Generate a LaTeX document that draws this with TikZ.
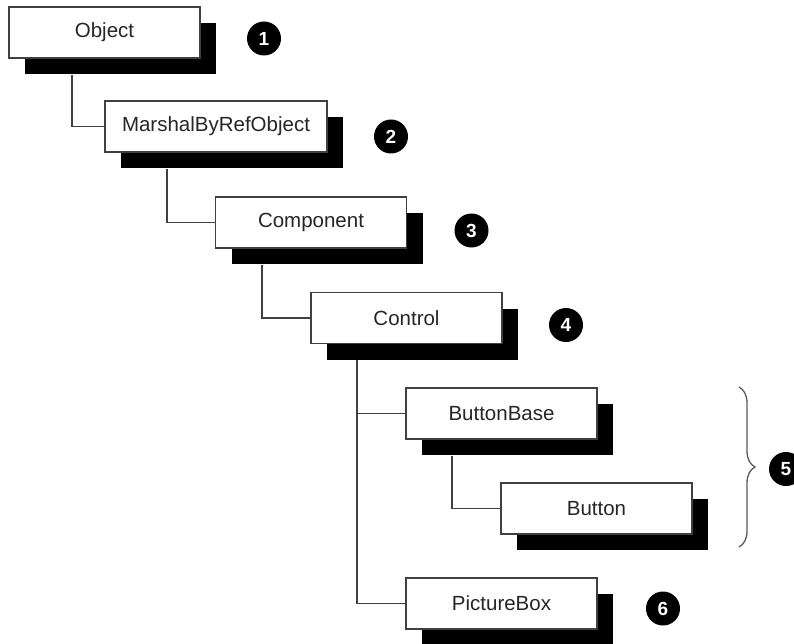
\documentclass[tikz,border=0pt]{standalone}
\usepackage{fontspec}
\setmainfont{Liberation Sans}
\usetikzlibrary{positioning, shadows, decorations.pathreplacing}

\begin{document}
\begin{tikzpicture}[
  x=1pt, y=-1pt,
  font=\fontsize{20.5}{24}\selectfont,
  cls/.style   = {rectangle, draw=black!75, line width=1.6pt, fill=white, text=black!85,
                  minimum width=191pt, minimum height=51pt, inner sep=2pt,
                  drop shadow={shadow xshift=16pt, shadow yshift=-16pt, fill=black, opacity=1}},
  badge/.style = {circle, fill=black, text=white, minimum size=34pt, inner sep=0pt,
                  font=\fontsize{19}{19}\selectfont\bfseries},
  link/.style  = {draw=black!75, line width=1.6pt},
  grp/.style   = {draw=black!65, line width=1.3pt, decorate, decoration={brace, amplitude=16pt}}
]
\useasboundingbox (0,0) rectangle (794,644);

% class boxes
\node[cls] (obj)     at (104.5,32.5) {Object};
\node[cls, minimum width=222pt] (marshal) at (216,126.5) {MarshalByRefObject};
\node[cls] (comp)    at (311,222.5) {Component};
\node[cls] (ctrl)    at (406.5,318) {Control};
\node[cls] (bbase)   at (501.5,413.5) {ButtonBase};
\node[cls] (button)  at (596.5,508.5) {Button};
\node[cls] (pbox)    at (501.5,603.5) {PictureBox};

% numbered badges
\node[badge] (n1) [right=46pt of obj, yshift=-6pt]     {1};
\node[badge] (n2) [right=46pt of marshal, yshift=-10pt] {2};
\node[badge] (n3) [right=47pt of comp, yshift=-8pt]    {3};
\node[badge] (n4) [right=46pt of ctrl, yshift=-7pt]    {4};
\node[badge] (n6) [right=48pt of pbox, yshift=-5pt]    {6};

% brace round ButtonBase / Button
\coordinate (grpTop) at (739,387);
\coordinate (grpBot) at (739,547);
\draw[grp] (grpTop) -- (grpBot);
\node[badge] (n5) at (786,469) {5};

% inheritance lines
\draw[link] ([xshift=64pt,yshift=-16pt]obj.south west)     |- (marshal.west);
\draw[link] ([xshift=63pt,yshift=-16pt]marshal.south west) |- (comp.west);
\draw[link] ([xshift=47pt,yshift=-16pt]comp.south west)    |- (ctrl.west);
\draw[link] ([xshift=47pt,yshift=-16pt]ctrl.south west)    |- (pbox.west);
\draw[link] ([xshift=47pt,yshift=-16pt]ctrl.south west)    |- (bbase.west);
\draw[link] ([xshift=47pt,yshift=-16pt]bbase.south west)   |- (button.west);

\end{tikzpicture}
\end{document}
